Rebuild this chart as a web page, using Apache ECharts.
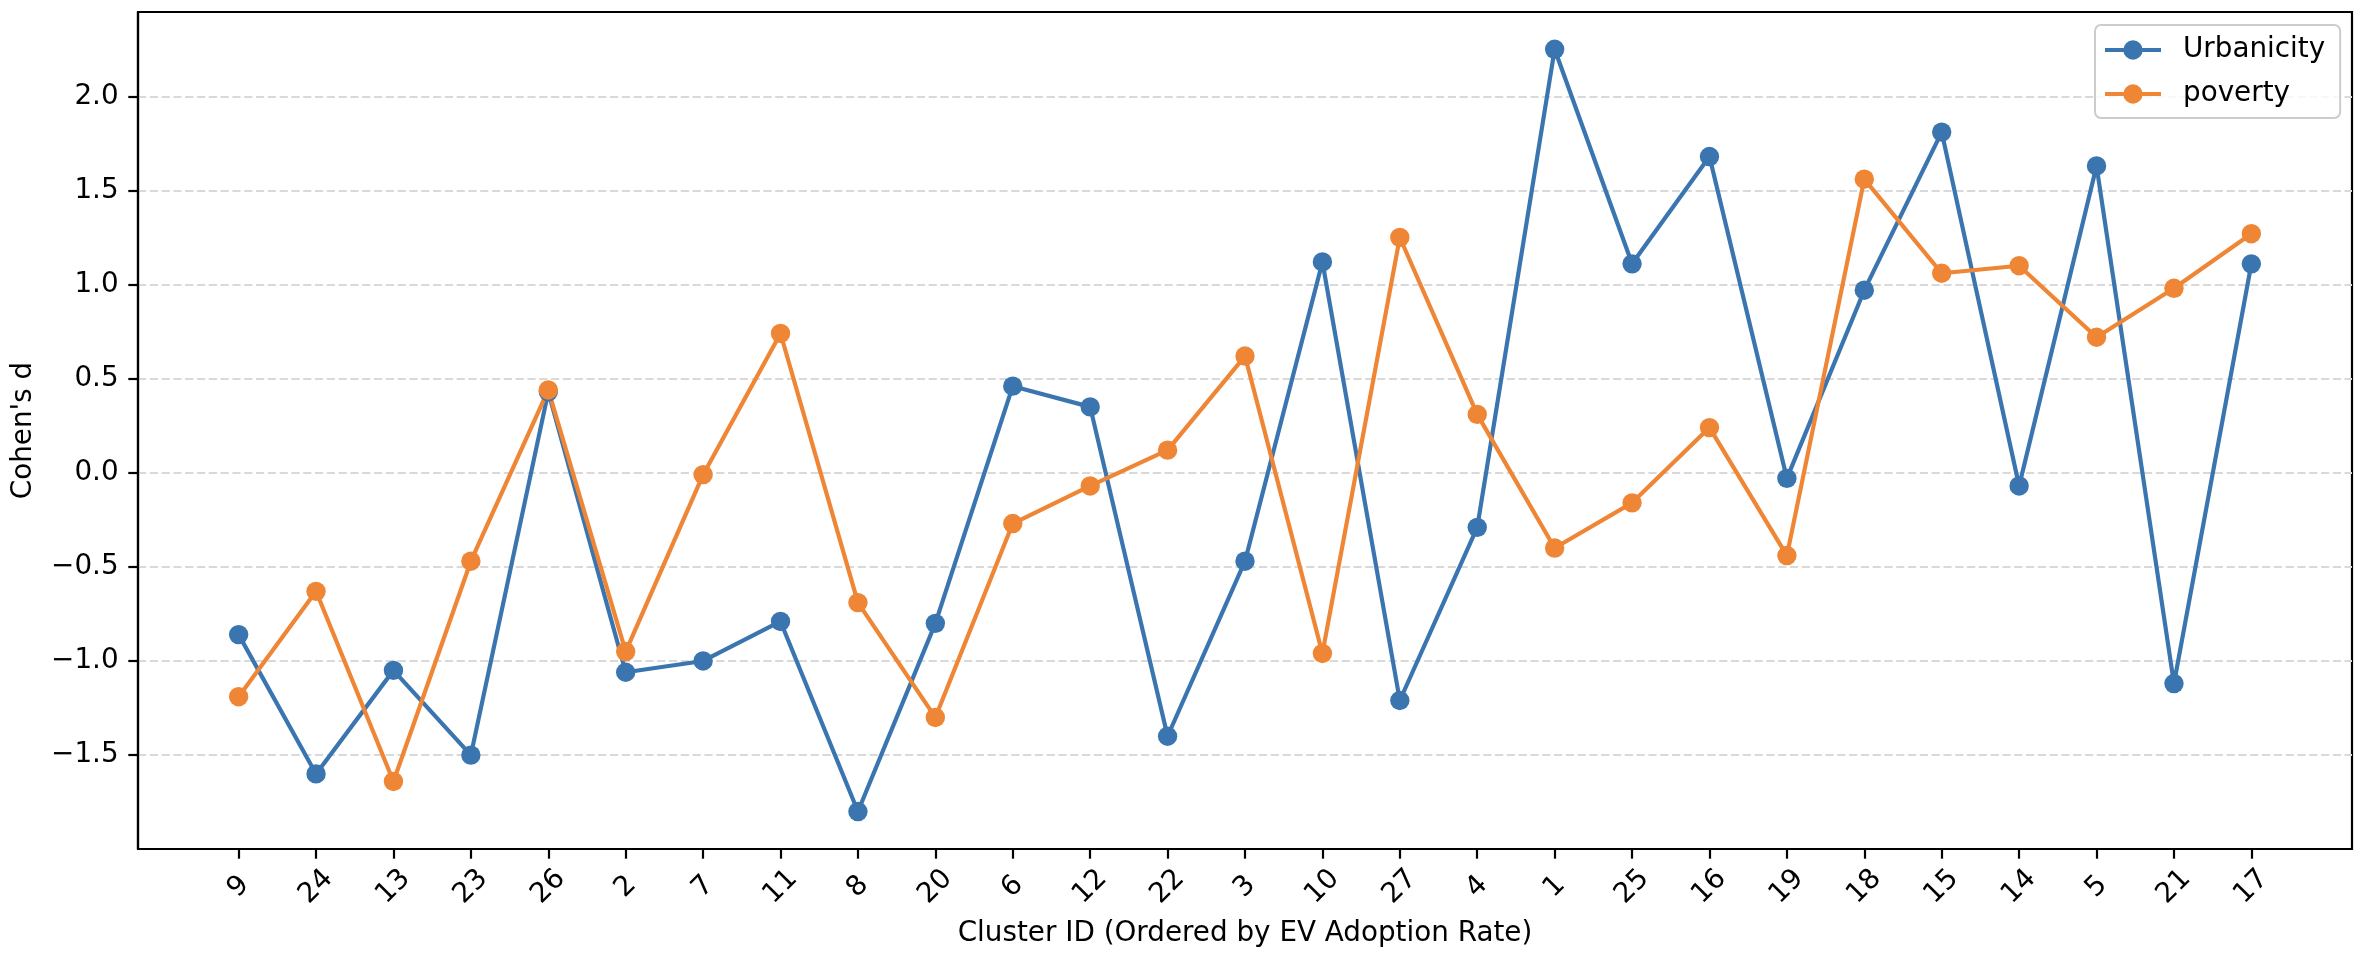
<!DOCTYPE html>
<html>
<head>
<meta charset="utf-8">
<script src="https://cdn.jsdelivr.net/npm/echarts@6/dist/echarts.min.js"></script>
<style>
html,body{margin:0;padding:0;background:#fff;}
#chart{width:2364px;height:956px;}
</style>
</head>
<body>
<div id="chart"></div>
<script>
const categories = ['9','24','13','23','26','2','7','11','8','20','6','12','22','3','10','27','4','1','25','16','19','18','15','14','5','21','17'];
const urbanicity = [-0.86,-1.60,-1.05,-1.50,0.43,-1.06,-1.00,-0.79,-1.80,-0.80,0.46,0.35,-1.40,-0.47,1.12,-1.21,-0.29,2.25,1.11,1.68,-0.03,0.97,1.81,-0.07,1.63,-1.12,1.11];
const poverty = [-1.19,-0.63,-1.64,-0.47,0.44,-0.95,-0.01,0.74,-0.69,-1.30,-0.27,-0.07,0.12,0.62,-0.96,1.25,0.31,-0.40,-0.16,0.24,-0.44,1.56,1.06,1.10,0.72,0.98,1.27];
const yTicks = [-1.5,-1.0,-0.5,0.0,0.5,1.0,1.5,2.0];
const seriesNames = ['Urbanicity','poverty'];
const colors = ['#3a75b0','#ef8636'];

const FONT = 'DejaVu Sans';
const FS = 27.8;
const xIdx = categories.map((c,i)=>i);
// legend handle: thick line with a circle marker in the middle (56 x 19.4 box)
const LEGEND_ICON = 'path://M0,7.6 L56,7.6 L56,11.8 L0,11.8 Z M18.3,9.7 A9.7,9.7 0 1,1 37.7,9.7 A9.7,9.7 0 1,1 18.3,9.7 Z';

const chart = echarts.init(document.getElementById('chart'), null, {renderer:'canvas'});
function mkSeries(name, vals, color){
  return {
    name: name, type: 'line',
    data: vals.map((v,i)=>[i,v]),
    symbol: 'circle', symbolSize: 19.4,
    itemStyle: {color: color},
    lineStyle: {color: color, width: 4.2},
    emphasis: {disabled: true},
    z: 3
  };
}
chart.setOption({
  animation: false,
  backgroundColor: '#ffffff',
  grid: {left: 138, right: 12, top: 12, bottom: 107, show: true, borderColor: '#000', borderWidth: 2.2, containLabel: false},
  legend: {
    orient: 'vertical', left: 2095, top: 25,
    data: seriesNames.map(n => ({name: n, icon: LEGEND_ICON})),
    itemWidth: 56, itemHeight: 19.4, itemGap: 16,
    padding: [11, 15, 10, 10],
    backgroundColor: 'rgba(255,255,255,0.8)',
    borderColor: '#cccccc', borderWidth: 2, borderRadius: 6,
    textStyle: {fontFamily: FONT, fontSize: FS, color: '#000', padding: [0,0,0,17]}
  },
  xAxis: {
    type: 'value', min: -1.3, max: 27.3,
    name: 'Cluster ID (Ordered by EV Adoption Rate)',
    nameLocation: 'middle', nameGap: 71,
    nameTextStyle: {fontFamily: FONT, fontSize: FS, color: '#000'},
    axisLine: {show: true, onZero: false, lineStyle: {color: '#000', width: 2.2}},
    axisTick: {show: true, customValues: xIdx, length: 9.7, lineStyle: {color: '#000', width: 2.2}},
    axisLabel: {
      customValues: xIdx, rotate: 45, align: 'center', verticalAlign: 'middle', margin: 38,
      fontFamily: FONT, fontSize: FS, color: '#000',
      formatter: v => categories[Math.round(v)]
    },
    splitLine: {show: false}
  },
  yAxis: {
    type: 'value', min: -1.999, max: 2.448,
    name: "Cohen's d",
    nameLocation: 'middle', nameGap: 100,
    nameTextStyle: {fontFamily: FONT, fontSize: FS, color: '#000'},
    axisLine: {show: true, onZero: false, lineStyle: {color: '#000', width: 2.2}},
    axisTick: {show: true, customValues: yTicks, length: 9.7, lineStyle: {color: '#000', width: 2.2}},
    axisLabel: {
      customValues: yTicks, margin: 19.4,
      fontFamily: FONT, fontSize: FS, color: '#000',
      formatter: v => v.toFixed(1).replace('-', '\u2212')
    },
    splitLine: {show: true, lineStyle: {color: '#d9d9d9', width: 2.2, type: [8.2, 3.6]}}
  },
  series: [mkSeries(seriesNames[0], urbanicity, colors[0]), mkSeries(seriesNames[1], poverty, colors[1])]
});
</script>
</body>
</html>
